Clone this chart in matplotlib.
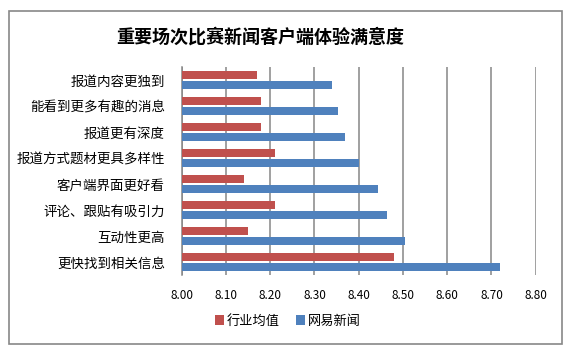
import numpy as np
import matplotlib
matplotlib.use("Agg")
import matplotlib.pyplot as plt
import matplotlib.patches as patches

plt.rcParams['font.family'] = ['Noto Sans CJK SC', 'DejaVu Sans']

# data (top to bottom)
categories = ["报道内容更独到", "能看到更多有趣的消息", "报道更有深度", "报道方式题材更具多样性",
              "客户端界面更好看", "评论、跟贴有吸引力", "互动性更高", "更快找到相关信息"]
industry_avg = [8.17, 8.18, 8.18, 8.21, 8.14, 8.21, 8.15, 8.48]
netease = [8.34, 8.353, 8.369, 8.40, 8.444, 8.464, 8.505, 8.719]
xticks = [8.00, 8.10, 8.20, 8.30, 8.40, 8.50, 8.60, 8.70, 8.80]

red = '#C0504D'
blue = '#4F81BD'
grid_col = '#868686'

fig = plt.figure(figsize=(5.72, 3.52), dpi=100)
fig.patch.set_facecolor('white')

# outer chart border
border = patches.Rectangle((9 / 572, 1 - 344 / 352), (562 - 9) / 572, (344 - 11) / 352,
                           transform=fig.transFigure, fill=False, edgecolor='#878787', linewidth=1.2)
fig.patches.append(border)

ax = fig.add_axes([181.7 / 572, 1 - 275 / 352, 354 / 572, 208 / 352])

y = np.arange(len(categories))[::-1]
h = 0.34
off = 0.19
ax.barh(y + off, np.array(industry_avg) - 8.0, left=8.0, height=h, color=red, label='行业均值', zorder=3)
ax.barh(y - off, np.array(netease) - 8.0, left=8.0, height=h, color=blue, label='网易新闻', zorder=3)

ax.set_xlim(8.0, 8.8)
ax.set_ylim(-0.5, len(categories) - 0.5)
ax.set_xticks(xticks)
ax.set_xticklabels([f"{v:.2f}" for v in xticks], fontsize=8.5)
ax.set_yticks(y)
ax.set_yticklabels(categories, fontsize=9.7)
ax.tick_params(axis='x', length=0, pad=10)
ax.tick_params(axis='y', length=0, pad=12)

ax.grid(axis='x', color=grid_col, linewidth=1.1, zorder=0)
for s in ['top', 'right', 'bottom']:
    ax.spines[s].set_visible(False)
ax.spines['left'].set_color(grid_col)
ax.spines['left'].set_linewidth(1.1)

fig.text(260 / 572, 1 - 37 / 352, "重要场次比赛新闻客户端体验满意度", ha='center', va='center',
         fontsize=13, fontweight='bold')

fig.legend(loc='center', bbox_to_anchor=(288 / 572, 1 - 321 / 352), ncol=2, frameon=False,
           fontsize=9.5, handlelength=0.7, handleheight=0.7, handletextpad=0.2, columnspacing=1.2)

fig.savefig("out.png", dpi=100)
